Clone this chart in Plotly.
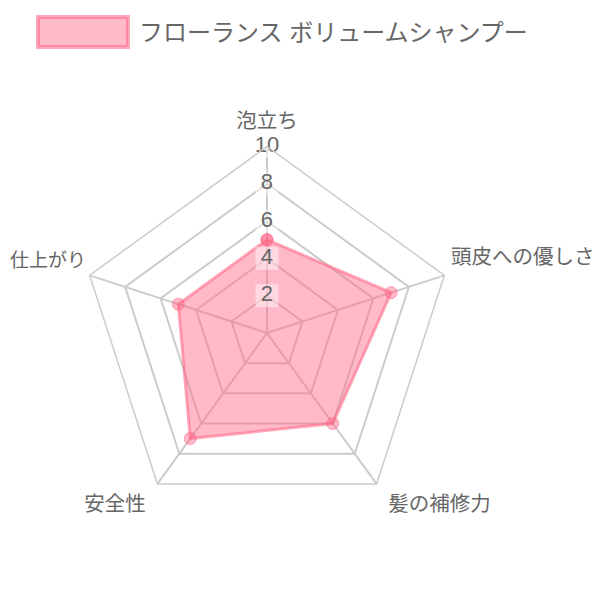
import plotly.graph_objects as go

categories = ["泡立ち", "頭皮への優しさ", "髪の補修力", "安全性", "仕上がり"]
values = [5, 7, 6, 7, 5]
series_name = "フローランス ボリュームシャンプー"
tick_values = [2, 4, 6, 8, 10]
tick_labels = ["2", "4", "6", "8", "10"]

FONT = "Liberation Sans, Noto Sans CJK JP, sans-serif"
FILL = "rgba(255, 99, 132, 0.45)"
LINE = "rgba(255, 99, 132, 0.55)"
TEXT = "#666666"
GRID = "#cccccc"

# the page body has an 8px margin, so the plot is laid out 8px up/left
fig = go.Figure()

fig.add_trace(go.Scatterpolar(
    r=values + values[:1],
    theta=categories + categories[:1],
    mode="lines+markers",
    fill="toself",
    fillcolor=FILL,
    line=dict(color=LINE, width=3),
    marker=dict(size=12, color=FILL, line=dict(color=LINE, width=1)),
    name=series_name,
    showlegend=False,
))

# point labels, placed just outside each outer vertex
# (invisible markers only set how far each label sits from its vertex)
fig.add_trace(go.Scatterpolar(
    r=[10] * len(categories),
    theta=categories,
    mode="markers+text",
    text=categories,
    textposition=["top center", "top right", "bottom right", "bottom left", "top left"],
    textfont=dict(family=FONT, size=[20.5, 20.5, 20.5, 20.5, 19], color=TEXT),
    marker=dict(size=[20, 9, 17, 17, 4], color="rgba(0,0,0,0)"),
    cliponaxis=False,
    hoverinfo="skip",
    showlegend=False,
))

# tick labels on the first spoke, with a light backdrop
fig.add_trace(go.Scatterpolar(
    r=tick_values,
    theta=[categories[0]] * len(tick_values),
    mode="markers+text",
    text=tick_labels,
    textposition="middle center",
    textfont=dict(family=FONT, size=22, color=TEXT),
    marker=dict(symbol="square", size=23, color="rgba(255,255,255,0.45)"),
    cliponaxis=False,
    hoverinfo="skip",
    showlegend=False,
))

fig.update_layout(
    width=600,
    height=600,
    margin=dict(l=0, r=0, t=0, b=0),
    paper_bgcolor="white",
    font=dict(family=FONT, color=TEXT),
    polar=dict(
        domain=dict(x=[0.1208, 0.7425], y=[0.1475, 0.7692]),
        bgcolor="rgba(0,0,0,0)",
        gridshape="linear",
        radialaxis=dict(
            range=[0, 10],
            tickvals=tick_values,
            showticklabels=False,
            ticks="",
            showline=False,
            gridcolor=GRID,
            gridwidth=1.5,
            angle=90,
        ),
        angularaxis=dict(
            rotation=90,
            direction="clockwise",
            categoryorder="array",
            categoryarray=categories,
            showticklabels=False,
            ticks="",
            showline=True,
            linecolor=GRID,
            linewidth=1.5,
            gridcolor=GRID,
            gridwidth=1.5,
        ),
    ),
    shapes=[dict(
        type="rect", xref="paper", yref="paper",
        x0=0.05, x1=0.2, y0=0.935, y1=0.985,
        fillcolor=FILL, line=dict(color=LINE, width=4),
    )],
    annotations=[dict(
        text=series_name, xref="paper", yref="paper",
        x=0.215, y=0.96, xanchor="left", yanchor="middle",
        showarrow=False, font=dict(family=FONT, size=24, color=TEXT),
    )],
)

fig.write_html("out.html")
